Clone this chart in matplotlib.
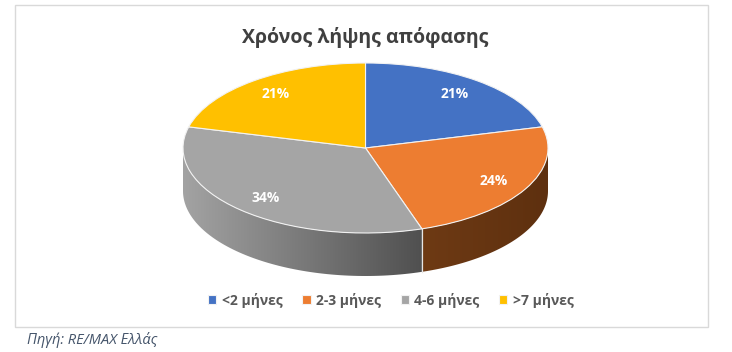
import numpy as np
import matplotlib
matplotlib.use('Agg')
import matplotlib.pyplot as plt
from matplotlib.patches import Polygon, Rectangle
from matplotlib.colors import LinearSegmentedColormap

# data
labels = ['<2 μήνες', '2-3 μήνες', '4-6 μήνες', '>7 μήνες']
shares = [21, 24, 34, 21]
top_colors = ['#4472C4', '#ED7D31', '#A5A5A5', '#FFC000']
side_colors = [('#2f528f', '#24406f'), ('#6e3a14', '#5e300f'),
               ('#a3a3a3', '#505050'), ('#b38600', '#8a6800')]
title = 'Χρόνος λήψης απόφασης'
source = 'Πηγή: RE/MAX Ελλάς'

plt.rcParams['font.family'] = ['Open Sans', 'DejaVu Sans']

W, H = 732, 352
fig = plt.figure(figsize=(W / 100, H / 100), dpi=100)
ax = fig.add_axes([0, 0, 1, 1])

# ellipse geometry in pixels: centre, semi axes, thickness
cx, cy, a, b, depth_px = 365.5, 148, 182.5, 85, 43
depth = depth_px / b

wedges, texts, autotexts = ax.pie(
    shares, colors=top_colors, startangle=90, counterclock=False,
    autopct='%1.0f%%', pctdistance=0.8,
    wedgeprops=dict(edgecolor='#f2f2f2', linewidth=0.8, zorder=3),
    textprops=dict(color='white', fontsize=10, fontweight='bold'))
for t in autotexts:
    t.set_zorder(5)

# front side walls of the "3D" pie
for w, (c0, c1) in zip(wedges, side_colors):
    t1, t2 = w.theta1, w.theta2
    for k in (-360, 0, 360):
        lo, hi = max(t1, -180 + k), min(t2, 0 + k)
        if hi <= lo:
            continue
        th = np.radians(np.linspace(lo, hi, 80))
        xs, ys = np.cos(th), np.sin(th)
        pts = np.vstack([np.column_stack([xs, ys]),
                         np.column_stack([xs[::-1], ys[::-1] - depth])])
        poly = Polygon(pts, closed=True, fill=False, linewidth=0)
        ax.add_patch(poly)
        cmap = LinearSegmentedColormap.from_list('side', [c0, c1])
        grad = np.linspace(0, 1, 256)[None, :]
        im = ax.imshow(grad, cmap=cmap, aspect='auto', zorder=1,
                       extent=[xs.min(), xs.max(), ys.min() - depth, ys.max()])
        im.set_clip_path(poly)
        # light seam where two slices meet on the side
        for edge in (lo, hi):
            if edge not in (-180 + k, 0 + k):
                e = np.radians(edge)
                ax.plot([np.cos(e)] * 2, [np.sin(e), np.sin(e) - depth],
                        color='#e6e6e6', linewidth=0.8, zorder=2)

ax.set_aspect('auto')
ax.set_xlim(-cx / a, (W - cx) / a)
ax.set_ylim(-(H - cy) / b, cy / b)
ax.axis('off')

fig.text(cx / W, 1 - 38 / H, title, ha='center', va='center',
         fontsize=14, fontweight='bold', color='#404040')

fig.legend(wedges, labels, loc='center', bbox_to_anchor=(391 / W, 1 - 300 / H),
           ncol=4, frameon=False, handlelength=0.6, handleheight=0.6,
           handletextpad=0.4, columnspacing=1.4,
           prop=dict(size=10, weight='bold'), labelcolor='#595959')

fig.text(27 / W, 1 - 340 / H, source, ha='left', va='center',
         fontsize=10.5, style='italic', color='#44546A')

fig.add_artist(Rectangle((15 / W, 1 - 327 / H), 693 / W, 322 / H,
                         transform=fig.transFigure, fill=False,
                         edgecolor='#d9d9d9', linewidth=1))

fig.savefig('out.png', dpi=100)
